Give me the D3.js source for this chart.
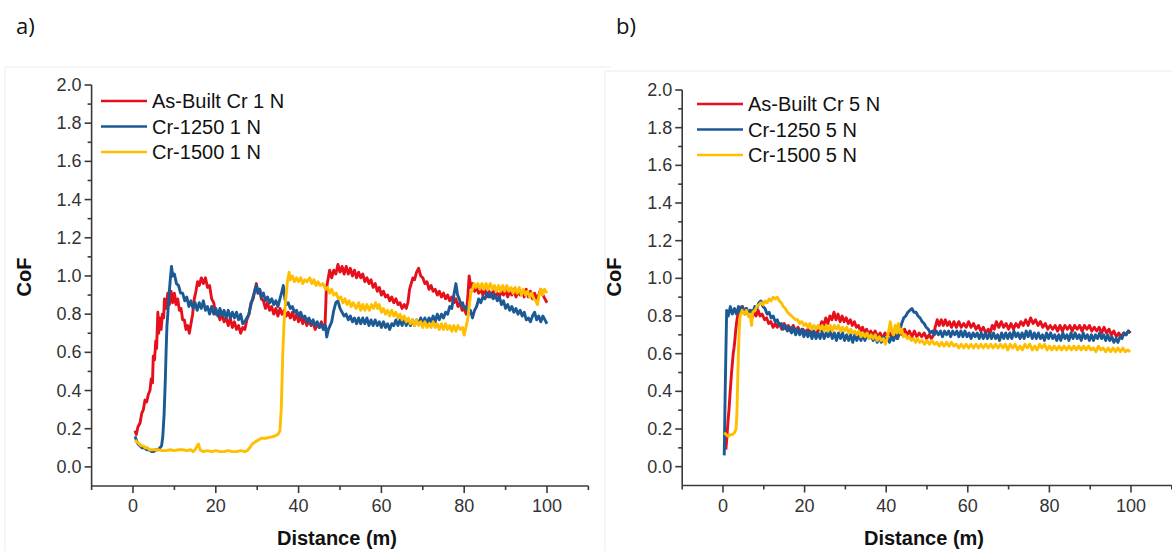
<!DOCTYPE html>
<html>
<head>
<meta charset="utf-8">
<script src="https://cdn.jsdelivr.net/npm/d3@7"></script>
<style>
  body { margin: 0; background: #fff; }
  svg { display: block; font-family: "Liberation Sans", Arial, sans-serif; }
</style>
</head>
<body>
<svg width="1172" height="551"></svg>
<script>
// tick values
const xMajor = [0, 20, 40, 60, 80, 100]
const xMinor = [-10, 10, 30, 50, 70, 90, 110]
const yMajor = [0, 0.2, 0.4, 0.6, 0.8, 1.0, 1.2, 1.4, 1.6, 1.8, 2.0]
const yMinor = [0.1, 0.3, 0.5, 0.7, 0.9, 1.1, 1.3, 1.5, 1.7, 1.9]

const names1N = ["As-Built Cr 1 N", "Cr-1250 1 N", "Cr-1500 1 N"]
const names5N = ["As-Built Cr 5 N", "Cr-1250 5 N", "Cr-1500 5 N"]
const colors = ["#e6101c", "#1c5a96", "#ffbf00"]

// [distance (m), CoF]
const asBuilt1N = [[0.5,0.19],[0.8,0.17],[1.2,0.21],[1.7,0.23],[2.1,0.28],[2.5,0.30],[2.9,0.35],[3.3,0.34],[3.7,0.38],[4.1,0.40],[4.4,0.46],[4.7,0.44],[4.9,0.58],[5.2,0.56],[5.5,0.66],[5.7,0.62],[6.0,0.81],[6.2,0.70],[6.5,0.78],[6.8,0.72],[7.1,0.80],[7.4,0.78],[7.6,0.88],[8.0,0.83],[8.4,0.91],[8.8,0.85],[9.2,0.92],[9.6,0.86],[10.0,0.91],[10.4,0.85],[10.8,0.88],[11.2,0.82],[11.6,0.83],[12.0,0.77],[12.4,0.77],[12.8,0.72],[13.2,0.74],[13.6,0.70],[14.0,0.75],[14.4,0.80],[14.8,0.88],[15.2,0.92],[15.6,0.97],[16.0,0.95],[16.5,0.99],[17.0,0.96],[17.5,0.99],[18.0,0.94],[18.5,0.95],[19.0,0.88],[19.5,0.86],[20.0,0.80],[20.5,0.81],[21.0,0.77],[21.5,0.80],[22.0,0.76],[22.5,0.78],[23.0,0.74],[23.5,0.78],[24.0,0.73],[24.5,0.76],[25.0,0.72],[25.5,0.74],[26.0,0.70],[26.5,0.73],[27.0,0.72],[27.5,0.77],[28.0,0.80],[28.5,0.86],[29.0,0.88],[29.5,0.93],[29.8,0.96],[30.2,0.91],[30.6,0.93],[31.0,0.88],[31.5,0.87],[32.0,0.83],[32.5,0.86],[33.0,0.82],[33.5,0.84],[34.0,0.80],[34.5,0.83],[35.0,0.79],[35.5,0.83],[36.0,0.80],[36.5,0.82],[37.0,0.79],[37.5,0.81],[38.0,0.78],[38.5,0.81],[39.0,0.77],[39.5,0.80],[40.0,0.76],[40.5,0.79],[41.0,0.75],[41.5,0.78],[42.0,0.74],[42.5,0.77],[43.0,0.74],[43.5,0.76],[44.0,0.72],[44.5,0.75],[45.0,0.73],[45.5,0.76],[46.0,0.72],[46.4,0.75],[46.7,0.93],[47.0,0.97],[47.5,1.03],[48.0,0.99],[48.5,1.03],[49.0,1.01],[49.5,1.06],[50.0,1.02],[50.5,1.05],[51.0,1.01],[51.5,1.05],[52.0,1.01],[52.5,1.04],[53.0,1.00],[53.5,1.03],[54.0,0.99],[54.5,1.02],[55.0,0.99],[55.5,1.01],[56.0,0.97],[56.5,0.99],[57.0,0.96],[57.5,0.98],[58.0,0.94],[58.5,0.96],[59.0,0.92],[59.5,0.94],[60.0,0.90],[60.5,0.92],[61.0,0.89],[61.5,0.90],[62.0,0.87],[62.5,0.89],[63.0,0.86],[63.5,0.88],[64.0,0.85],[64.5,0.86],[65.0,0.83],[65.5,0.85],[66.0,0.83],[66.4,0.86],[66.8,0.93],[67.2,0.96],[67.6,0.99],[68.0,0.98],[68.5,1.02],[69.0,1.04],[69.5,1.00],[70.0,0.99],[70.5,0.96],[71.0,0.97],[71.5,0.93],[72.0,0.95],[72.5,0.92],[73.0,0.93],[73.5,0.90],[74.0,0.92],[74.5,0.89],[75.0,0.91],[75.5,0.88],[76.0,0.90],[76.5,0.87],[77.0,0.89],[77.5,0.86],[78.0,0.88],[78.5,0.84],[79.0,0.86],[79.5,0.82],[80.0,0.83],[80.5,0.80],[80.9,0.90],[81.2,1.00],[81.6,0.94],[82.0,0.96],[82.5,0.92],[83.0,0.94],[83.5,0.91],[84.0,0.93],[84.5,0.90],[85.0,0.93],[85.5,0.89],[86.0,0.92],[86.5,0.89],[87.0,0.92],[87.5,0.89],[88.0,0.91],[88.5,0.89],[89.0,0.92],[89.5,0.90],[90.0,0.93],[90.5,0.89],[91.0,0.92],[91.5,0.90],[92.0,0.93],[92.5,0.89],[93.0,0.92],[93.5,0.90],[94.0,0.92],[94.5,0.89],[95.0,0.93],[95.5,0.89],[96.0,0.92],[96.5,0.88],[97.0,0.91],[97.5,0.88],[98.0,0.90],[98.5,0.93],[99.0,0.90],[99.5,0.88],[100.0,0.86]]

const cr1250_1N = [[0.5,0.16],[0.8,0.14],[1.2,0.12],[1.7,0.11],[2.2,0.10],[2.7,0.10],[3.3,0.09],[3.9,0.09],[4.5,0.08],[5.0,0.08],[5.5,0.09],[6.0,0.09],[6.5,0.10],[6.9,0.11],[7.2,0.16],[7.5,0.27],[7.8,0.45],[8.0,0.61],[8.2,0.74],[8.4,0.80],[8.7,0.90],[9.0,0.98],[9.3,1.05],[9.6,1.00],[10.0,1.01],[10.5,0.96],[11.0,0.95],[11.5,0.91],[12.0,0.91],[12.5,0.87],[13.0,0.89],[13.5,0.84],[14.0,0.87],[14.5,0.83],[15.0,0.86],[15.5,0.82],[16.0,0.86],[16.5,0.83],[17.0,0.87],[17.5,0.82],[18.0,0.84],[18.5,0.80],[19.0,0.84],[19.5,0.80],[20.0,0.83],[20.5,0.79],[21.0,0.83],[21.5,0.79],[22.0,0.82],[22.5,0.78],[23.0,0.82],[23.5,0.78],[24.0,0.81],[24.5,0.78],[25.0,0.81],[25.5,0.77],[26.0,0.80],[26.5,0.75],[27.0,0.76],[27.5,0.78],[28.0,0.80],[28.5,0.85],[29.0,0.89],[29.5,0.93],[29.8,0.95],[30.2,0.91],[30.6,0.93],[31.0,0.89],[31.5,0.91],[32.0,0.87],[32.5,0.89],[33.0,0.86],[33.5,0.88],[34.0,0.85],[34.5,0.87],[35.0,0.84],[35.5,0.88],[36.0,0.92],[36.3,0.95],[36.7,0.88],[37.0,0.85],[37.5,0.86],[38.0,0.83],[38.5,0.84],[39.0,0.81],[39.5,0.82],[40.0,0.79],[40.5,0.81],[41.0,0.78],[41.5,0.79],[42.0,0.76],[42.5,0.78],[43.0,0.75],[43.5,0.77],[44.0,0.74],[44.5,0.76],[45.0,0.73],[45.5,0.75],[46.0,0.72],[46.5,0.74],[46.8,0.68],[47.2,0.72],[47.6,0.74],[48.0,0.76],[48.5,0.82],[49.0,0.86],[49.5,0.87],[50.0,0.83],[50.5,0.81],[51.0,0.79],[51.5,0.80],[52.0,0.77],[52.5,0.79],[53.0,0.76],[53.5,0.78],[54.0,0.75],[54.5,0.78],[55.0,0.75],[55.5,0.78],[56.0,0.75],[56.5,0.78],[57.0,0.74],[57.5,0.77],[58.0,0.74],[58.5,0.77],[59.0,0.74],[59.5,0.76],[60.0,0.73],[60.5,0.76],[61.0,0.73],[61.5,0.75],[62.0,0.72],[62.5,0.75],[63.0,0.74],[63.5,0.77],[64.0,0.74],[64.5,0.77],[65.0,0.74],[65.5,0.78],[66.0,0.74],[66.5,0.77],[67.0,0.74],[67.5,0.77],[68.0,0.74],[68.5,0.77],[69.0,0.75],[69.5,0.78],[70.0,0.75],[70.5,0.78],[71.0,0.75],[71.5,0.78],[72.0,0.76],[72.5,0.79],[73.0,0.76],[73.5,0.80],[74.0,0.77],[74.5,0.80],[75.0,0.78],[75.5,0.81],[76.0,0.80],[76.5,0.84],[77.0,0.83],[77.5,0.90],[78.0,0.96],[78.4,0.90],[78.8,0.88],[79.2,0.85],[79.6,0.86],[80.0,0.83],[80.5,0.84],[81.0,0.80],[81.5,0.82],[82.0,0.78],[82.5,0.82],[83.0,0.84],[83.5,0.88],[84.0,0.86],[84.5,0.89],[85.0,0.88],[85.5,0.91],[86.0,0.89],[86.5,0.91],[87.0,0.88],[87.5,0.90],[88.0,0.87],[88.5,0.89],[89.0,0.85],[89.5,0.87],[90.0,0.83],[90.5,0.85],[91.0,0.82],[91.5,0.84],[92.0,0.81],[92.5,0.83],[93.0,0.80],[93.5,0.82],[94.0,0.79],[94.5,0.81],[95.0,0.77],[95.5,0.78],[96.0,0.76],[96.5,0.79],[97.0,0.81],[97.5,0.77],[98.0,0.79],[98.5,0.76],[99.0,0.79],[99.5,0.77],[100.0,0.75]]

const cr1500_1N = [[0.5,0.14],[1.0,0.13],[1.5,0.12],[2.0,0.11],[2.5,0.11],[3.0,0.10],[3.5,0.10],[4.0,0.09],[5.0,0.09],[6.0,0.09],[7.0,0.085],[8.0,0.085],[9.0,0.09],[10.0,0.085],[11.0,0.09],[12.0,0.09],[13.0,0.085],[14.0,0.09],[14.5,0.08],[15.0,0.09],[15.5,0.11],[15.8,0.12],[16.2,0.09],[16.9,0.08],[18.0,0.085],[19.0,0.08],[20.0,0.085],[21.0,0.08],[22.0,0.08],[23.0,0.085],[24.0,0.08],[25.0,0.08],[26.0,0.085],[27.0,0.08],[27.6,0.085],[28.2,0.10],[28.8,0.12],[29.5,0.13],[30.2,0.14],[31.0,0.15],[32.0,0.15],[33.0,0.155],[34.0,0.16],[35.0,0.17],[35.5,0.19],[35.8,0.30],[36.0,0.45],[36.2,0.61],[36.5,0.76],[36.9,0.88],[37.3,0.97],[37.7,1.02],[38.0,0.98],[38.5,1.00],[39.0,0.97],[39.5,0.99],[40.0,0.97],[40.5,0.99],[41.0,0.96],[41.5,0.98],[42.0,0.97],[42.7,0.99],[43.2,0.96],[43.7,0.98],[44.2,0.95],[44.7,0.97],[45.2,0.95],[45.9,0.96],[46.5,0.93],[47.0,0.94],[47.5,0.91],[48.0,0.93],[48.5,0.90],[49.1,0.91],[49.6,0.88],[50.2,0.89],[50.7,0.86],[51.2,0.88],[51.7,0.85],[52.2,0.87],[52.7,0.84],[53.2,0.86],[53.9,0.83],[54.5,0.86],[55.0,0.82],[55.5,0.85],[56.0,0.82],[56.5,0.85],[57.1,0.82],[57.6,0.85],[58.1,0.83],[58.6,0.86],[59.1,0.83],[59.5,0.85],[60.0,0.81],[60.5,0.83],[61.0,0.80],[61.5,0.82],[62.0,0.79],[62.5,0.82],[63.0,0.79],[63.5,0.81],[64.0,0.78],[64.5,0.80],[65.0,0.77],[65.5,0.79],[66.0,0.76],[66.5,0.78],[67.0,0.75],[67.5,0.77],[68.0,0.74],[68.5,0.77],[69.0,0.74],[69.5,0.76],[70.0,0.73],[70.5,0.76],[71.0,0.73],[71.5,0.75],[72.0,0.73],[72.5,0.76],[73.0,0.73],[73.5,0.75],[74.0,0.72],[74.5,0.75],[75.0,0.72],[75.5,0.75],[76.0,0.72],[76.5,0.74],[77.0,0.71],[77.5,0.74],[78.0,0.71],[78.5,0.74],[79.0,0.72],[79.6,0.73],[80.0,0.69],[80.5,0.74],[80.9,0.78],[81.3,0.86],[81.6,0.91],[82.0,0.93],[82.4,0.96],[82.8,0.94],[83.3,0.96],[83.8,0.93],[84.3,0.96],[84.8,0.93],[85.3,0.96],[85.8,0.93],[86.3,0.96],[86.8,0.93],[87.3,0.95],[87.8,0.92],[88.3,0.95],[88.8,0.92],[89.3,0.95],[89.8,0.92],[90.3,0.95],[90.8,0.92],[91.3,0.94],[91.8,0.91],[92.3,0.94],[92.8,0.91],[93.3,0.94],[93.8,0.90],[94.3,0.93],[94.8,0.90],[95.3,0.92],[95.8,0.89],[96.3,0.91],[96.8,0.88],[97.3,0.87],[97.7,0.85],[98.1,0.90],[98.5,0.93],[98.9,0.90],[99.4,0.93],[100.0,0.91]]

const asBuilt5N = [[0.7,0.09],[0.9,0.14],[1.1,0.20],[1.3,0.26],[1.5,0.31],[1.7,0.38],[1.9,0.44],[2.1,0.50],[2.3,0.55],[2.5,0.60],[2.7,0.63],[2.9,0.67],[3.1,0.72],[3.3,0.76],[3.5,0.79],[3.7,0.81],[4.1,0.84],[4.6,0.85],[5.1,0.82],[5.6,0.84],[6.1,0.81],[6.6,0.83],[7.1,0.79],[7.6,0.82],[8.1,0.80],[8.6,0.83],[9.1,0.80],[9.6,0.81],[10.2,0.78],[10.7,0.79],[11.2,0.76],[11.7,0.77],[12.3,0.74],[12.8,0.76],[13.3,0.74],[13.8,0.76],[14.4,0.73],[15.0,0.76],[15.5,0.73],[16.0,0.75],[16.6,0.72],[17.2,0.75],[17.8,0.72],[18.4,0.74],[19.0,0.71],[19.6,0.73],[20.2,0.71],[20.8,0.73],[21.4,0.70],[22.0,0.72],[22.6,0.70],[23.2,0.72],[23.7,0.73],[24.2,0.77],[24.7,0.75],[25.2,0.79],[25.7,0.76],[26.2,0.80],[26.7,0.78],[27.2,0.82],[27.7,0.78],[28.2,0.81],[28.7,0.77],[29.2,0.80],[29.7,0.77],[30.2,0.79],[30.7,0.76],[31.2,0.78],[31.7,0.75],[32.2,0.77],[32.7,0.74],[33.2,0.75],[33.7,0.72],[34.2,0.74],[34.7,0.71],[35.2,0.73],[35.7,0.70],[36.2,0.72],[36.7,0.70],[37.3,0.72],[37.9,0.69],[38.5,0.71],[39.1,0.68],[39.7,0.71],[40.3,0.69],[40.9,0.71],[41.5,0.68],[42.1,0.70],[42.7,0.68],[43.3,0.71],[43.9,0.70],[44.5,0.73],[45.1,0.70],[45.7,0.72],[46.3,0.69],[46.9,0.72],[47.5,0.69],[48.1,0.71],[48.7,0.69],[49.3,0.71],[49.9,0.68],[50.5,0.70],[51.1,0.68],[51.6,0.70],[52.0,0.74],[52.5,0.78],[53.0,0.75],[53.5,0.78],[54.0,0.75],[54.5,0.78],[55.0,0.75],[55.5,0.77],[56.0,0.74],[56.6,0.77],[57.2,0.74],[57.8,0.77],[58.4,0.74],[59.0,0.76],[59.6,0.74],[60.2,0.77],[60.8,0.74],[61.4,0.76],[62.0,0.73],[62.6,0.75],[63.2,0.72],[63.8,0.74],[64.4,0.71],[65.0,0.73],[65.5,0.71],[66.0,0.75],[66.5,0.73],[67.0,0.77],[67.6,0.74],[68.2,0.77],[68.8,0.74],[69.4,0.76],[70.0,0.73],[70.6,0.76],[71.2,0.73],[71.8,0.76],[72.4,0.74],[73.0,0.77],[73.6,0.75],[74.2,0.78],[74.8,0.75],[75.4,0.79],[76.0,0.76],[76.6,0.78],[77.2,0.75],[77.8,0.77],[78.4,0.74],[79.0,0.76],[79.6,0.73],[80.2,0.75],[80.8,0.73],[81.4,0.75],[82.0,0.72],[82.6,0.75],[83.2,0.72],[83.8,0.75],[84.4,0.73],[85.0,0.75],[85.6,0.72],[86.2,0.75],[86.8,0.73],[87.4,0.75],[88.0,0.72],[88.6,0.75],[89.2,0.73],[89.8,0.75],[90.4,0.72],[91.0,0.74],[91.6,0.72],[92.2,0.74],[92.8,0.71],[93.4,0.74],[94.0,0.71],[94.6,0.73],[95.2,0.70],[95.8,0.72],[96.4,0.69],[97.0,0.71],[97.6,0.69],[98.2,0.71],[98.8,0.70],[99.4,0.72],[99.9,0.71]]

const cr1250_5N = [[0.3,0.06],[0.4,0.20],[0.5,0.35],[0.7,0.60],[0.9,0.83],[1.3,0.80],[1.8,0.85],[2.3,0.81],[2.8,0.84],[3.3,0.81],[3.8,0.85],[4.3,0.82],[4.8,0.85],[5.3,0.81],[5.8,0.84],[6.3,0.80],[6.8,0.83],[7.3,0.82],[7.8,0.85],[8.3,0.84],[8.8,0.87],[9.3,0.88],[9.8,0.85],[10.3,0.84],[10.8,0.81],[11.3,0.82],[11.8,0.79],[12.3,0.80],[12.8,0.77],[13.3,0.78],[13.8,0.75],[14.3,0.76],[14.8,0.73],[15.3,0.75],[15.8,0.72],[16.3,0.74],[16.8,0.71],[17.3,0.74],[17.8,0.70],[18.3,0.73],[18.8,0.70],[19.3,0.73],[19.8,0.69],[20.3,0.72],[20.8,0.69],[21.3,0.72],[21.8,0.68],[22.3,0.72],[22.8,0.68],[23.3,0.71],[23.8,0.68],[24.3,0.72],[24.8,0.68],[25.3,0.71],[25.8,0.69],[26.3,0.72],[26.8,0.68],[27.3,0.71],[27.8,0.67],[28.3,0.71],[28.8,0.68],[29.3,0.71],[29.8,0.67],[30.3,0.70],[30.8,0.67],[31.3,0.70],[31.8,0.66],[32.3,0.70],[32.8,0.67],[33.3,0.70],[33.8,0.67],[34.3,0.70],[34.8,0.67],[35.3,0.71],[35.8,0.68],[36.3,0.70],[36.8,0.67],[37.3,0.70],[37.8,0.66],[38.3,0.69],[38.8,0.66],[39.3,0.69],[39.8,0.67],[40.3,0.69],[40.8,0.66],[41.3,0.69],[41.8,0.67],[42.3,0.70],[42.8,0.68],[43.3,0.72],[43.8,0.76],[44.3,0.79],[44.8,0.80],[45.3,0.82],[45.8,0.83],[46.3,0.84],[46.8,0.82],[47.3,0.82],[47.8,0.80],[48.3,0.79],[48.8,0.77],[49.3,0.76],[49.8,0.74],[50.3,0.73],[50.8,0.71],[51.3,0.72],[51.8,0.70],[52.3,0.72],[52.8,0.70],[53.3,0.72],[53.8,0.69],[54.3,0.72],[54.8,0.70],[55.3,0.72],[55.8,0.69],[56.3,0.72],[56.8,0.70],[57.3,0.72],[57.8,0.69],[58.3,0.72],[58.8,0.69],[59.3,0.72],[59.8,0.69],[60.3,0.71],[60.8,0.68],[61.3,0.71],[61.8,0.69],[62.3,0.71],[62.8,0.68],[63.3,0.71],[63.8,0.68],[64.3,0.71],[64.8,0.68],[65.3,0.71],[65.8,0.68],[66.3,0.71],[66.8,0.68],[67.3,0.70],[67.8,0.67],[68.3,0.71],[68.8,0.68],[69.3,0.71],[69.8,0.68],[70.3,0.71],[70.8,0.68],[71.3,0.72],[71.8,0.69],[72.3,0.71],[72.8,0.68],[73.3,0.71],[73.8,0.68],[74.3,0.72],[74.8,0.69],[75.3,0.72],[75.8,0.68],[76.3,0.71],[76.8,0.68],[77.3,0.71],[77.8,0.68],[78.3,0.70],[78.8,0.67],[79.3,0.71],[79.8,0.68],[80.3,0.71],[80.8,0.68],[81.3,0.70],[81.8,0.67],[82.3,0.70],[82.8,0.67],[83.3,0.71],[83.8,0.68],[84.3,0.70],[84.8,0.67],[85.3,0.71],[85.8,0.68],[86.3,0.71],[86.8,0.68],[87.3,0.70],[87.8,0.67],[88.3,0.71],[88.8,0.68],[89.3,0.70],[89.8,0.67],[90.3,0.70],[90.8,0.67],[91.3,0.70],[91.8,0.68],[92.3,0.71],[92.8,0.68],[93.3,0.70],[93.8,0.67],[94.3,0.70],[94.8,0.67],[95.3,0.69],[95.8,0.66],[96.3,0.68],[96.8,0.66],[97.3,0.69],[97.8,0.68],[98.3,0.71],[98.8,0.70],[99.3,0.72],[99.8,0.71]]

const cr1500_5N = [[0.3,0.18],[0.8,0.17],[1.3,0.16],[1.8,0.17],[2.3,0.17],[2.8,0.18],[3.2,0.20],[3.4,0.28],[3.6,0.45],[3.8,0.62],[4.0,0.74],[4.2,0.80],[4.7,0.83],[5.2,0.81],[5.7,0.83],[6.2,0.80],[6.6,0.81],[7.0,0.75],[7.3,0.82],[7.8,0.83],[8.3,0.85],[8.8,0.86],[9.3,0.87],[9.8,0.86],[10.3,0.88],[10.8,0.87],[11.3,0.89],[11.8,0.88],[12.3,0.90],[12.8,0.89],[13.3,0.90],[13.8,0.88],[14.3,0.87],[14.8,0.85],[15.3,0.84],[15.8,0.82],[16.3,0.81],[16.8,0.80],[17.3,0.79],[17.8,0.78],[18.3,0.78],[18.8,0.76],[19.3,0.77],[19.8,0.75],[20.3,0.76],[20.8,0.74],[21.3,0.76],[21.8,0.73],[22.3,0.75],[22.8,0.73],[23.3,0.75],[23.8,0.73],[24.3,0.75],[24.8,0.72],[25.3,0.75],[25.8,0.72],[26.3,0.75],[26.8,0.72],[27.3,0.75],[27.8,0.73],[28.3,0.75],[28.8,0.72],[29.3,0.74],[29.8,0.72],[30.3,0.74],[30.8,0.71],[31.3,0.73],[31.8,0.71],[32.3,0.72],[32.8,0.70],[33.3,0.72],[33.8,0.69],[34.3,0.71],[34.8,0.69],[35.3,0.71],[35.8,0.68],[36.3,0.70],[36.8,0.68],[37.3,0.70],[37.8,0.67],[38.3,0.69],[38.8,0.67],[39.3,0.68],[39.8,0.65],[40.2,0.68],[40.6,0.72],[41.0,0.77],[41.4,0.72],[41.8,0.70],[42.2,0.75],[42.6,0.71],[43.0,0.76],[43.4,0.71],[43.8,0.73],[44.2,0.69],[44.7,0.70],[45.2,0.68],[45.7,0.69],[46.2,0.67],[46.7,0.68],[47.2,0.66],[47.7,0.68],[48.2,0.66],[48.8,0.67],[49.4,0.65],[50.0,0.67],[50.6,0.65],[51.2,0.67],[51.8,0.65],[52.4,0.66],[53.0,0.64],[53.6,0.66],[54.2,0.64],[54.8,0.66],[55.4,0.64],[56.0,0.66],[56.6,0.64],[57.2,0.65],[57.8,0.63],[58.4,0.65],[59.0,0.63],[59.6,0.65],[60.2,0.63],[60.8,0.65],[61.4,0.63],[62.0,0.65],[62.6,0.63],[63.2,0.65],[63.8,0.63],[64.4,0.65],[65.0,0.63],[65.6,0.65],[66.2,0.63],[66.8,0.65],[67.4,0.63],[68.0,0.65],[68.6,0.63],[69.2,0.65],[69.8,0.62],[70.4,0.65],[71.0,0.63],[71.6,0.65],[72.2,0.62],[72.8,0.64],[73.4,0.62],[74.0,0.65],[74.6,0.63],[75.2,0.65],[75.8,0.62],[76.4,0.64],[77.0,0.62],[77.6,0.65],[78.2,0.63],[78.8,0.65],[79.4,0.62],[80.0,0.64],[80.6,0.62],[81.2,0.64],[81.8,0.62],[82.4,0.64],[83.0,0.62],[83.6,0.64],[84.2,0.62],[84.8,0.64],[85.4,0.62],[86.0,0.64],[86.6,0.62],[87.2,0.64],[87.8,0.62],[88.4,0.64],[89.0,0.62],[89.6,0.64],[90.2,0.62],[90.8,0.63],[91.4,0.61],[92.0,0.64],[92.6,0.62],[93.2,0.63],[93.8,0.61],[94.4,0.63],[95.0,0.61],[95.6,0.63],[96.2,0.61],[96.8,0.63],[97.4,0.61],[98.0,0.63],[98.6,0.61],[99.2,0.62],[99.8,0.61]]

const svg = d3.select("svg")
const axisColor = "#3a3a3a"

// faint frames around the two pasted panels
svg.append("path").attr("d", "M5,551 V67 H610").attr("fill", "none").attr("stroke", "#ececec")
svg.append("path").attr("d", "M605,551 V71 H1172").attr("fill", "none").attr("stroke", "#ececec")

function drawPanel(cfg) {
    const g = svg.append("g")

    const scX = d3.scaleLinear().domain([-10, 110]).range(cfg.xRange)
    const scY = d3.scaleLinear().domain([-0.1, 2.0]).range(cfg.yRange)

    // panel letter
    g.append("text")
        .attr("x", cfg.letterX).attr("y", 34)
        .style("font-family", "'Open Sans', sans-serif")
        .style("font-size", "22px")
        .attr("fill", "#111")
        .text(cfg.letter)

    // x axis
    const xAxis = g.append("g").attr("transform", `translate(0, ${cfg.yRange[0]})`)
    xAxis.append("line")
        .attr("x1", cfg.xRange[0]).attr("x2", cfg.xRange[1])
        .attr("stroke", axisColor).attr("stroke-width", 1.6)
    xAxis.selectAll(".xmaj").data(xMajor).enter().append("line")
        .attr("x1", d => scX(d)).attr("x2", d => scX(d))
        .attr("y1", 0).attr("y2", 7)
        .attr("stroke", axisColor).attr("stroke-width", 1.6)
    xAxis.selectAll(".xmin").data(xMinor).enter().append("line")
        .attr("x1", d => scX(d)).attr("x2", d => scX(d))
        .attr("y1", 0).attr("y2", 4)
        .attr("stroke", axisColor).attr("stroke-width", 1.6)
    xAxis.selectAll(".xlab").data(xMajor).enter().append("text")
        .attr("x", d => scX(d)).attr("y", 26)
        .attr("text-anchor", "middle")
        .style("font-size", "18px").attr("fill", "#333")
        .text(d => d)

    // y axis
    const yAxis = g.append("g").attr("transform", `translate(${cfg.xRange[0]}, 0)`)
    yAxis.append("line")
        .attr("y1", cfg.yRange[0]).attr("y2", cfg.yRange[1])
        .attr("stroke", axisColor).attr("stroke-width", 1.6)
    yAxis.selectAll(".ymaj").data(yMajor).enter().append("line")
        .attr("y1", d => scY(d)).attr("y2", d => scY(d))
        .attr("x1", 0).attr("x2", -7)
        .attr("stroke", axisColor).attr("stroke-width", 1.6)
    yAxis.selectAll(".ymin").data(yMinor).enter().append("line")
        .attr("y1", d => scY(d)).attr("y2", d => scY(d))
        .attr("x1", 0).attr("x2", -4)
        .attr("stroke", axisColor).attr("stroke-width", 1.6)
    yAxis.selectAll(".ylab").data(yMajor).enter().append("text")
        .attr("x", -10).attr("y", d => scY(d) + 6)
        .attr("text-anchor", "end")
        .style("font-size", "18px").attr("fill", "#333")
        .text(d => d3.format(".1f")(d))

    // axis titles
    g.append("text")
        .attr("x", (scX(-10) + scX(110)) / 2 - 3).attr("y", 545)
        .attr("text-anchor", "middle")
        .style("font-size", "20px").style("font-weight", "bold").attr("fill", "#111")
        .text("Distance (m)")
    g.append("text")
        .attr("transform", `translate(${cfg.yTitleX}, 277) rotate(-90)`)
        .attr("text-anchor", "middle")
        .style("font-size", "20px").style("font-weight", "bold").attr("fill", "#111")
        .text("CoF")

    // curves
    const line = d3.line().x(d => scX(d[0])).y(d => scY(d[1]))
    cfg.series.forEach((s, i) => {
        g.append("path")
            .datum(s)
            .attr("d", line)
            .attr("fill", "none")
            .attr("stroke", colors[i])
            .attr("stroke-width", 2.9)
            .attr("stroke-linejoin", "round")
    })

    // legend
    const legend = g.selectAll(".legend-item")
        .data(cfg.names)
        .enter()
        .append("g")
        .attr("transform", (d, i) => `translate(${cfg.legendX}, ${cfg.legendY + i * 25.5})`)
    legend.append("line")
        .attr("x1", 0).attr("x2", 46)
        .attr("stroke", (d, i) => colors[i]).attr("stroke-width", 2.4)
    legend.append("text")
        .attr("x", 51).attr("y", 7)
        .style("font-size", "20px").attr("fill", "#111")
        .text(d => d)
}

drawPanel({
    letter: "a)", letterX: 16,
    xRange: [91.6, 588.4], yRange: [486, 85],
    yTitleX: 31, legendX: 101, legendY: 101,
    names: names1N,
    series: [asBuilt1N, cr1250_1N, cr1500_1N]
})

drawPanel({
    letter: "b)", letterX: 616,
    xRange: [682.2, 1171.8], yRange: [485.5, 90],
    yTitleX: 621, legendX: 697, legendY: 104,
    names: names5N,
    series: [asBuilt5N, cr1250_5N, cr1500_5N]
})
</script>
</body>
</html>
